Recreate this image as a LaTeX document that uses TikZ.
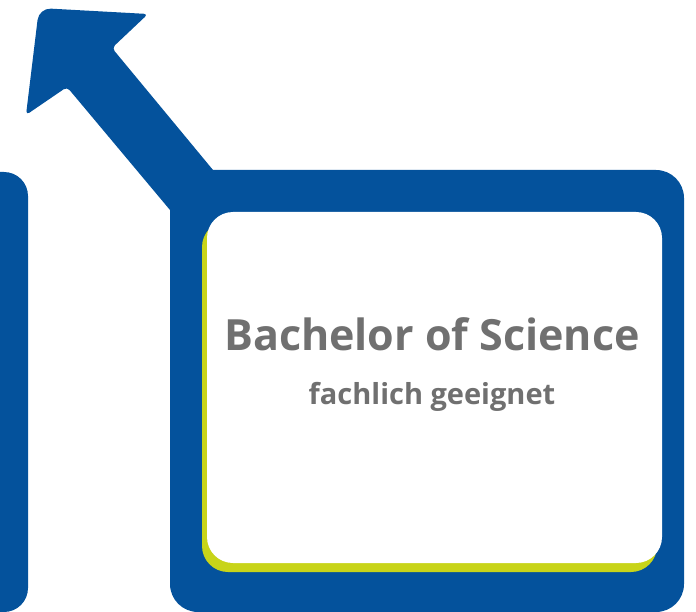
\documentclass[tikz,border=0pt]{standalone}
\usepackage{fontspec}
\setmainfont{Open Sans}
\usetikzlibrary{shadows}
\definecolor{hsblue}{RGB}{4,82,156}
\definecolor{hslime}{RGB}{200,212,25}
\definecolor{hsgray}{RGB}{112,112,112}

\begin{document}
\begin{tikzpicture}[x=1pt, y=-1pt,
  frame/.style={fill=hsblue},
  card/.style={fill=white, rounded corners=26pt, minimum width=455pt, minimum height=351pt,
    drop shadow={shadow xshift=-5pt, shadow yshift=-9pt, fill=hslime, opacity=1}},
  title/.style={anchor=base, text=hsgray, font=\bfseries\fontsize{43}{46}\selectfont},
  subtitle/.style={anchor=base, text=hsgray, font=\bfseries\fontsize{29}{32}\selectfont}]
  \useasboundingbox (0,0) rectangle (696,612);
  %frames
  \fill[frame, rounded corners=24pt] (-40,172) rectangle (28,612);
  \fill[frame, rounded corners=28pt] (170,170) rectangle (684,612);
  % arrow
  \fill[frame, rounded corners=4pt] (250,215) -- (213,170) -- (112,48) -- (148,14)
    [rounded corners=12pt] -- (39,8) [rounded corners=4pt] -- (26,115) -- (67,87) -- (170,210) -- (200,246) -- cycle;
  % card and texts
  \node[card] (card) at (434.5,387.5) {};
  \node[title] (degree) at (432,350) {Bachelor of Science};
  \node[subtitle] (aptitude) at (432,404) {fachlich geeignet};
\end{tikzpicture}
\end{document}
